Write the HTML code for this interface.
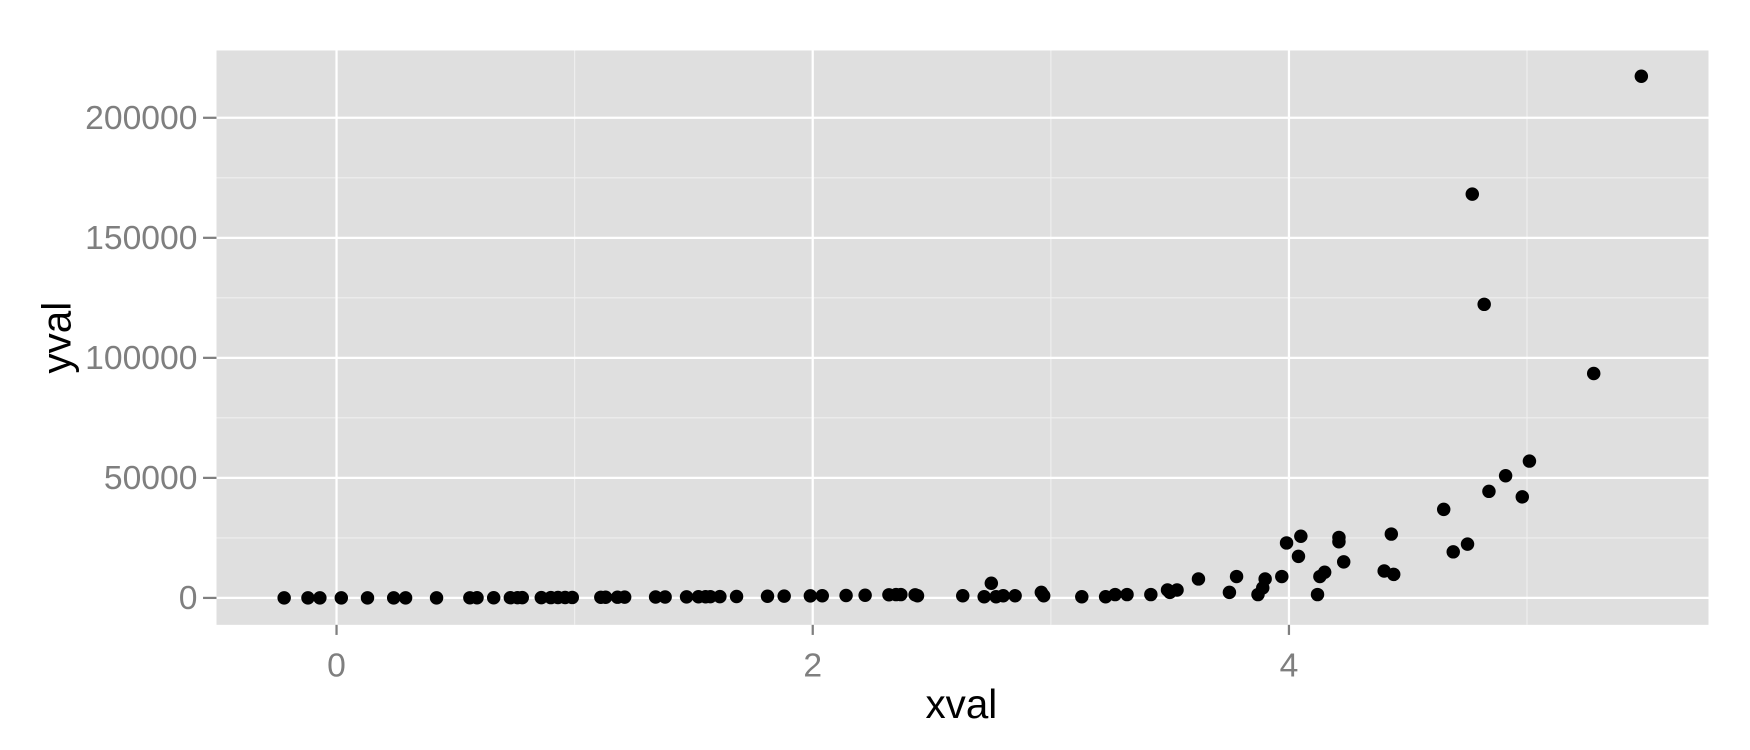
<!DOCTYPE html>
<html><head><meta charset="utf-8"><style>
html,body{margin:0;padding:0;background:#fff;}
svg{display:block;font-family:"Liberation Sans",sans-serif;}
</style></head><body>
<svg id="chart" width="1750" height="750" viewBox="0 0 1560 668.57" preserveAspectRatio="none">
<rect x="193" y="45" width="1330" height="512" fill="#DFDFDF"/>
<g id="grid"></g><g id="axes"></g><g id="points"></g>
<text x="857" y="640" font-size="36" text-anchor="middle" fill="#000">xval</text>
<text x="0" y="0" font-size="36" text-anchor="middle" fill="#000" transform="translate(63,301) rotate(-90)">yval</text>
</svg>
<script>
const xVals=[-0.22,-0.12,-0.07,0.02,0.13,0.24,0.29,0.42,0.56,0.59,0.66,0.73,0.76,0.78,0.86,0.90,0.93,0.96,0.99,1.11,1.13,1.18,1.21,1.34,1.38,1.47,1.52,1.55,1.57,1.61,1.68,1.81,1.88,1.99,2.04,2.14,2.22,2.32,2.35,2.37,2.43,2.44,2.63,2.72,2.75,2.77,2.80,2.85,2.96,2.97,3.13,3.23,3.27,3.32,3.42,3.49,3.50,3.53,3.62,3.75,3.78,3.87,3.89,3.90,3.97,3.99,4.04,4.05,4.12,4.13,4.15,4.21,4.21,4.23,4.40,4.43,4.44,4.65,4.69,4.75,4.77,4.82,4.84,4.91,4.98,5.01,5.28,5.48];
const yVals=[2,3,5,8,10,15,20,30,50,60,70,90,100,110,130,150,160,180,200,260,270,300,320,380,400,450,480,500,520,540,600,700,760,850,900,1000,1100,1300,1400,1400,1300,900,900,500,6100,500,900,900,2300,900,500,500,1400,1400,1400,3300,2300,3300,7900,2300,8900,1400,4200,7900,8900,22900,17300,25700,1400,8900,10700,25200,23400,15000,11200,26600,9800,36900,19200,22400,168200,122300,44400,50900,42100,57000,93500,217300];
const xTicks=[0,2,4];
const xMinor=[1,3,5];
const yTicks=[0,50000,100000,150000,200000];
const yMinor=[25000,75000,125000,175000];
const xLabels=["0","2","4"];
const yLabels=["0","50000","100000","150000","200000"];
const NS="http://www.w3.org/2000/svg";
const sx=v=>300+v*212.25;
const sy=v=>533-v*(428/200000);
function mk(t,a,p){const e=document.createElementNS(NS,t);for(const k in a)e.setAttribute(k,a[k]);p.appendChild(e);return e;}
const grid=document.getElementById('grid'),axes=document.getElementById('axes'),pts=document.getElementById('points');
xMinor.forEach(v=>{const l=mk('line',{x1:sx(v),x2:sx(v),y1:45,y2:557,stroke:'#EFEFEF','stroke-width':1},grid);

});
yMinor.forEach(v=>{const l=mk('line',{x1:193,x2:1523,y1:sy(v),y2:sy(v),stroke:'#EFEFEF','stroke-width':1},grid);

});
xTicks.forEach((v,i)=>{const l=mk('line',{x1:sx(v),x2:sx(v),y1:45,y2:557,stroke:'#fff','stroke-width':2},grid);


const t=mk('line',{x1:sx(v),x2:sx(v),y1:557,y2:566,stroke:'#7F7F7F','stroke-width':2},axes);


const tx=mk('text',{x:sx(v),y:603,'font-size':30,'text-anchor':'middle',fill:'#7F7F7F'},axes);tx.textContent=xLabels[i];

});
yTicks.forEach((v,i)=>{const l=mk('line',{x1:193,x2:1523,y1:sy(v),y2:sy(v),stroke:'#fff','stroke-width':2},grid);


const t=mk('line',{x1:181,x2:193,y1:sy(v),y2:sy(v),stroke:'#7F7F7F','stroke-width':2},axes);


const tx=mk('text',{x:176,y:sy(v)+10,'font-size':30,'text-anchor':'end',fill:'#7F7F7F'},axes);tx.textContent=yLabels[i];

});
xVals.forEach((x,i)=>{const c=mk('circle',{cx:sx(x),cy:sy(yVals[i]),r:6,fill:'#000'},pts);

});
</script>
</body></html>
